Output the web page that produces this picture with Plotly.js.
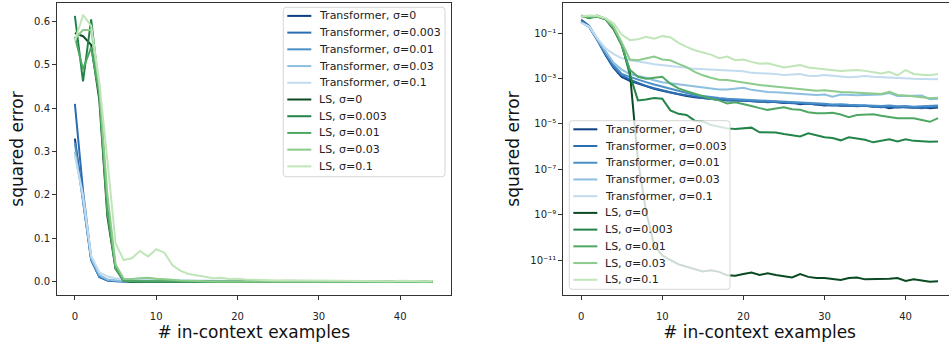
<!DOCTYPE html>
<html><head><meta charset="utf-8">
<script src="https://cdn.plot.ly/plotly-3.0.1.min.js"></script>
<style>html,body{margin:0;padding:0;overflow:hidden;background:#fff}#chart{width:957px;height:343px}</style>
</head><body><div id="chart"></div>
<script>
// ---------- data ----------
const examples = [0,1,2,3,4,5,6,7,8,9,10,11,12,13,14,15,16,17,18,19,20,21,22,23,24,25,26,27,28,29,30,31,32,33,34,35,36,37,38,39,40,41,42,43,44];

const seriesNames = ['Transformer, σ=0','Transformer, σ=0.003','Transformer, σ=0.01','Transformer, σ=0.03','Transformer, σ=0.1',
                     'LS, σ=0','LS, σ=0.003','LS, σ=0.01','LS, σ=0.03','LS, σ=0.1'];

const transformerS0 = [0.33,0.19,0.05,0.011,3.0e-3,1.2e-3,8.0e-4,6.0e-4,4.6e-4,3.6e-4,2.9e-4,2.4e-4,2.0e-4,1.7e-4,1.5e-4,1.35e-4,1.3e-4,1.2e-4,1.1e-4,1.15e-4,1.1e-4,1.0e-4,9.5e-5,1.0e-4,9.0e-5,8.5e-5,8.8e-5,7.5e-5,8.0e-5,7.0e-5,6.5e-5,6.8e-5,6.3e-5,6.6e-5,6.2e-5,6.4e-5,5.8e-5,6.0e-5,5.0e-5,5.6e-5,5.4e-5,5.2e-5,5.6e-5,5.0e-5,5.4e-5];
const transformerS0003 = [0.41,0.21,0.055,0.012,3.2e-3,1.4e-3,9.0e-4,6.5e-4,4.8e-4,3.8e-4,3.0e-4,2.5e-4,2.1e-4,1.8e-4,1.55e-4,1.4e-4,1.25e-4,1.2e-4,1.15e-4,1.05e-4,1.1e-4,1.05e-4,1.0e-4,9.2e-5,9.5e-5,8.8e-5,8.2e-5,8.5e-5,7.6e-5,7.2e-5,7.0e-5,6.6e-5,6.9e-5,6.4e-5,6.0e-5,6.3e-5,6.1e-5,5.5e-5,5.9e-5,5.3e-5,5.8e-5,5.4e-5,5.0e-5,5.5e-5,5.7e-5];
const transformerS001 = [0.32,0.19,0.05,0.013,4.0e-3,1.6e-3,1.2e-3,9.0e-4,7.0e-4,5.5e-4,4.5e-4,3.5e-4,2.8e-4,2.3e-4,1.9e-4,1.7e-4,1.5e-4,1.4e-4,1.3e-4,1.25e-4,1.2e-4,1.15e-4,1.1e-4,1.05e-4,1.0e-4,9.5e-5,9.0e-5,8.8e-5,8.5e-5,8.0e-5,7.8e-5,7.2e-5,7.5e-5,7.0e-5,6.8e-5,7.0e-5,6.5e-5,6.2e-5,6.6e-5,6.0e-5,6.2e-5,5.8e-5,6.0e-5,6.4e-5,6.5e-5];
const transformerS003 = [0.30,0.19,0.055,0.016,5.0e-3,2.5e-3,1.6e-3,1.3e-3,1.1e-3,8.5e-4,7.0e-4,6.3e-4,5.6e-4,5.1e-4,4.5e-4,4.0e-4,3.6e-4,3.3e-4,3.3e-4,3.6e-4,4.0e-4,3.2e-4,2.8e-4,2.6e-4,2.5e-4,2.4e-4,2.2e-4,2.1e-4,2.0e-4,1.9e-4,2.0e-4,1.6e-4,2.0e-4,1.9e-4,1.85e-4,1.9e-4,1.95e-4,2.0e-4,2.3e-4,1.7e-4,1.7e-4,1.75e-4,1.8e-4,1.25e-4,1.3e-4];
const transformerS01 = [0.29,0.20,0.06,0.022,0.012,8.0e-3,6.5e-3,5.5e-3,5.0e-3,4.3e-3,4.0e-3,3.6e-3,3.3e-3,3.0e-3,2.7e-3,2.6e-3,2.5e-3,2.4e-3,2.3e-3,2.2e-3,2.1e-3,1.8e-3,1.75e-3,1.7e-3,1.6e-3,1.45e-3,1.55e-3,1.6e-3,1.35e-3,1.3e-3,1.45e-3,1.35e-3,1.3e-3,1.15e-3,1.2e-3,1.3e-3,1.2e-3,1.15e-3,1.05e-3,1.0e-3,1.0e-3,9.8e-4,9.6e-4,9.5e-4,9.3e-4];

const lsS0 = [0.573,0.566,0.546,0.42,0.15,0.03,2.0e-3,2.5e-7,1.4e-9,4.5e-11,1.6e-11,1.0e-11,6.5e-12,5.0e-12,4.0e-12,3.1e-12,3.5e-12,3.0e-12,2.1e-12,2.0e-12,2.4e-12,2.8e-12,2.2e-12,2.6e-12,2.2e-12,2.0e-12,1.7e-12,2.4e-12,1.8e-12,1.6e-12,1.6e-12,1.45e-12,1.3e-12,1.6e-12,1.7e-12,1.4e-12,1.4e-12,1.5e-12,1.5e-12,1.6e-12,1.2e-12,1.4e-12,1.2e-12,1.1e-12,1.15e-12];
const lsS0003 = [0.613,0.462,0.605,0.44,0.17,0.035,1.5e-3,1.1e-4,1.2e-4,1.4e-4,1.3e-4,4.0e-5,2.8e-5,2.5e-5,1.4e-5,1.3e-5,9.0e-6,7.6e-6,6.4e-6,6.0e-6,6.5e-6,6.9e-6,4.3e-6,4.4e-6,4.2e-6,3.6e-6,3.2e-6,2.8e-6,3.9e-6,3.2e-6,2.6e-6,2.4e-6,1.9e-6,2.6e-6,2.3e-6,2.0e-6,1.55e-6,1.8e-6,2.1e-6,1.7e-6,2.1e-6,1.8e-6,1.7e-6,1.65e-6,1.7e-6];
const lsS001 = [0.565,0.49,0.54,0.43,0.16,0.03,2.5e-3,1.2e-3,1.0e-3,1.1e-3,1.2e-3,6.0e-4,3.7e-4,2.8e-4,2.2e-4,1.6e-4,1.3e-4,1.1e-4,8.0e-5,9.0e-5,7.6e-5,6.2e-5,5.0e-5,4.2e-5,4.8e-5,5.5e-5,4.5e-5,4.2e-5,3.3e-5,3.0e-5,3.0e-5,3.1e-5,2.6e-5,2.0e-5,2.5e-5,2.6e-5,2.7e-5,2.3e-5,2.1e-5,1.8e-5,1.8e-5,1.8e-5,1.5e-5,1.25e-5,1.8e-5];
const lsS003 = [0.56,0.58,0.58,0.45,0.20,0.04,7.0e-3,6.5e-3,8.0e-3,9.5e-3,7.0e-3,6.5e-3,4.5e-3,3.2e-3,2.0e-3,1.4e-3,1.1e-3,9.0e-4,8.7e-4,7.8e-4,7.0e-4,6.0e-4,5.2e-4,4.8e-4,4.5e-4,4.1e-4,3.8e-4,3.4e-4,3.1e-4,2.9e-4,3.1e-4,2.8e-4,2.6e-4,2.5e-4,2.4e-4,2.2e-4,2.2e-4,2.1e-4,2.6e-4,1.9e-4,1.8e-4,1.7e-4,1.5e-4,1.35e-4,1.45e-4];
const lsS01 = [0.555,0.615,0.59,0.46,0.28,0.089,0.05,0.054,0.071,0.058,0.075,0.067,0.038,0.025,0.018,0.014,0.0115,0.008,0.0095,0.0065,0.007,0.0055,0.0045,0.0048,0.004,0.0031,0.0035,0.004,0.0031,0.0028,0.0026,0.0024,0.0022,0.0023,0.0024,0.0022,0.0019,0.0017,0.002,0.0014,0.0024,0.0016,0.0015,0.0014,0.0016];

const seriesValues = [transformerS0, transformerS0003, transformerS001, transformerS003, transformerS01,
                      lsS0, lsS0003, lsS001, lsS003, lsS01];
const seriesColors = ['#0b3f82','#2a6db2','#4a8fc7','#8cbfe0','#c1dbef',
                      '#0a4a22','#23844a','#4ea864','#8bcb8c','#c0e5b9'];

const xTickVals = [0,10,20,30,40];
const linTickVals = [0,0.1,0.2,0.3,0.4,0.5,0.6];
const logTickVals = [1e-1,1e-3,1e-5,1e-7,1e-9,1e-11];
const logTickText = ['10⁻¹','10⁻³','10⁻⁵','10⁻⁷','10⁻⁹','10⁻¹¹'];

// ---------- layout helpers ----------
const W = 957, H = 343;
const FONT = 'DejaVu Sans';
const px = v => v / W;
const py = v => 1 - v / H;

const traces = [];
seriesValues.forEach((vals, i) => {
  traces.push({x: examples, y: vals, type: 'scatter', mode: 'lines', name: seriesNames[i],
    line: {color: seriesColors[i], width: 2}, xaxis: 'x', yaxis: 'y', showlegend: false, hoverinfo: 'skip'});
});
seriesValues.forEach((vals, i) => {
  traces.push({x: examples, y: vals, type: 'scatter', mode: 'lines', name: seriesNames[i],
    line: {color: seriesColors[i], width: 2}, xaxis: 'x2', yaxis: 'y2', showlegend: false, hoverinfo: 'skip'});
});

const shapes = [];
const annotations = [];
function roundRect(l, t, w, h, r) {
  const L = px(l), R = px(l + w), T = py(t), B = py(t + h);
  const rx = r / W, ry = r / H;
  return `M ${L+rx} ${T} L ${R-rx} ${T} Q ${R} ${T} ${R} ${T-ry} L ${R} ${B+ry} Q ${R} ${B} ${R-rx} ${B} L ${L+rx} ${B} Q ${L} ${B} ${L} ${B+ry} L ${L} ${T-ry} Q ${L} ${T} ${L+rx} ${T} Z`;
}
function addLegend(left, top, width, height) {
  shapes.push({type: 'path', xref: 'paper', yref: 'paper', layer: 'above',
    path: roundRect(left, top, width, height, 3),
    fillcolor: 'rgba(255,255,255,0.8)', line: {color: 'rgba(204,204,204,0.8)', width: 1}});
  seriesNames.forEach((name, i) => {
    const rowY = top + 8.6 + 16.72 * i;
    shapes.push({type: 'line', xref: 'paper', yref: 'paper', layer: 'above',
      x0: px(left + 4), x1: px(left + 28), y0: py(rowY), y1: py(rowY),
      line: {color: seriesColors[i], width: 2}});
    annotations.push({xref: 'paper', yref: 'paper', x: px(left + 34), y: py(rowY),
      xanchor: 'left', yanchor: 'middle', showarrow: false, text: name,
      font: {family: FONT, size: 11, color: '#222'}});
  });
}
addLegend(283.3, 7.3, 161.7, 169.4);
addLegend(569.3, 120.7, 160.7, 168.6);

const axisCommon = {showgrid: false, zeroline: false, showline: true, mirror: true,
  linecolor: '#333', linewidth: 1, ticks: 'outside', ticklen: 4, tickwidth: 1, tickcolor: '#333',
  tickfont: {family: FONT, size: 10, color: '#222'}};

const layout = {
  width: W, height: H, margin: {l: 0, r: 0, t: 0, b: 0},
  paper_bgcolor: '#fff', plot_bgcolor: '#fff', showlegend: false,
  font: {family: FONT},
  xaxis: Object.assign({}, axisCommon, {domain: [px(57), px(450.6)], range: [-2.2, 46.2], anchor: 'y',
    tickmode: 'array', tickvals: xTickVals, ticklabelstandoff: 8,
    title: {text: '# in-context examples', font: {family: FONT, size: 17, color: '#111'}, standoff: 4}}),
  yaxis: Object.assign({}, axisCommon, {domain: [1 - 295/H, 1 - 3/H], range: [-0.0305, 0.6425], anchor: 'x',
    tickmode: 'array', tickvals: linTickVals, tickformat: '.1f',
    title: {text: 'squared error', font: {family: FONT, size: 17, color: '#111'}, standoff: 6}}),
  xaxis2: Object.assign({}, axisCommon, {domain: [px(563.3), px(955.9)], range: [-2.2, 46.2], anchor: 'y2',
    tickmode: 'array', tickvals: xTickVals, ticklabelstandoff: 8,
    title: {text: '# in-context examples', font: {family: FONT, size: 17, color: '#111'}, standoff: 4}}),
  yaxis2: Object.assign({}, axisCommon, {domain: [1 - 295/H, 1 - 3/H], type: 'log', range: [-12.544, 0.337], anchor: 'x2',
    tickmode: 'array', tickvals: logTickVals, ticktext: logTickText,
    title: {text: 'squared error', font: {family: FONT, size: 17, color: '#111'}, standoff: 6}}),
  shapes: shapes,
  annotations: annotations
};

Plotly.newPlot('chart', traces, layout, {displayModeBar: false, staticPlot: true});
</script></body></html>
